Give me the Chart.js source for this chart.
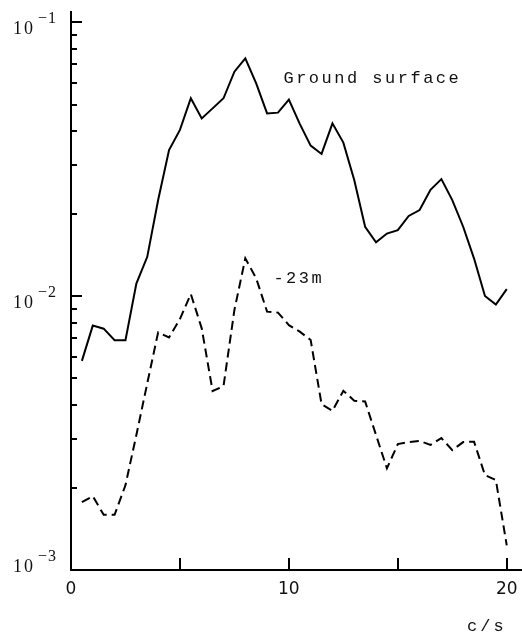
<!DOCTYPE html>
<html>
<head>
<meta charset="utf-8">
<script src="https://cdn.jsdelivr.net/npm/chart.js@4.4.0/dist/chart.umd.min.js"></script>
<style>
    html, body { margin: 0; padding: 0; background: #fff; }
    #wrap { width: 522px; height: 635px; position: relative; }
</style>
</head>
<body>
<div id="wrap"><canvas id="chart"></canvas></div>
<script>
// frequency, c/s
const freqs = [0.5, 1, 1.5, 2, 2.5, 3, 3.5, 4, 4.5, 5, 5.5, 6, 6.5, 7, 7.5, 8, 8.5, 9, 9.5, 10,
    10.5, 11, 11.5, 12, 12.5, 13, 13.5, 14, 14.5, 15, 15.5, 16, 16.5, 17, 17.5, 18, 18.5, 19, 19.5, 20];

const groundSurface = [0.0058, 0.0078, 0.0076, 0.0069, 0.0069, 0.0111, 0.0139, 0.0224, 0.0341, 0.0404,
    0.0527, 0.0445, 0.0484, 0.0527, 0.0659, 0.0737, 0.0597, 0.0464, 0.0467, 0.0521,
    0.0425, 0.0354, 0.0330, 0.0427, 0.0363, 0.0265, 0.0179, 0.0157, 0.0169, 0.0174,
    0.0196, 0.0206, 0.0244, 0.0267, 0.0224, 0.0179, 0.0137, 0.0100, 0.0093, 0.0106];

const depth23m = [0.00177, 0.00186, 0.00159, 0.00159, 0.00204, 0.00311, 0.0048, 0.00737, 0.00706, 0.00824,
    0.01017, 0.00762, 0.0045, 0.00469, 0.00889, 0.01373, 0.0116, 0.00877, 0.0087, 0.00783,
    0.00741, 0.00691, 0.00403, 0.00381, 0.00451, 0.00415, 0.00412, 0.00311, 0.00235, 0.00288,
    0.00293, 0.00296, 0.00286, 0.00303, 0.00274, 0.00293, 0.00294, 0.00222, 0.00213, 0.00123];

const xTicks = [0, 5, 10, 15, 20];
const xTickLabels = ['0', '', '10', '', '20'];
const yDecades = [0.001, 0.01, 0.1];
const yDecadeExps = ['-3', '-2', '-1'];
const yMinorTicks = [0.002, 0.003, 0.004, 0.005, 0.006, 0.007, 0.008, 0.009,
    0.02, 0.03, 0.04, 0.05, 0.06, 0.07, 0.08, 0.09];

// curve labels, anchored in data units (left end of the baseline)
const seriesNotes = [
    { text: 'Ground surface', x: 9.75, y: 0.0599 },
    { text: '-23m', x: 9.29, y: 0.0112 },
];

const MONO = '"Liberation Mono", "DejaVu Sans Mono", monospace';
const SERIF = '"Liberation Serif", "DejaVu Serif", serif';
const SANS = '"DejaVu Sans", "Liberation Sans", sans-serif';

const toPoints = (ys) => freqs.map((f, i) => ({ x: f, y: ys[i] }));

const paperAxes = {
    id: 'paperAxes',
    afterDraw(chart) {
        const { ctx, chartArea, scales } = chart;
        const xs = scales.x, ys = scales.y;
        ctx.save();
        ctx.strokeStyle = '#000';
        ctx.fillStyle = '#111';
        ctx.lineWidth = 2;

        // inward ticks on the y axis
        ctx.beginPath();
        yDecades.forEach((v) => {
            const py = Math.round(ys.getPixelForValue(v));
            ctx.moveTo(chartArea.left, py);
            ctx.lineTo(chartArea.left + 11, py);
        });
        yMinorTicks.forEach((v) => {
            const py = Math.round(ys.getPixelForValue(v));
            ctx.moveTo(chartArea.left, py);
            ctx.lineTo(chartArea.left + 6, py);
        });
        // upward ticks on the x axis
        xTicks.forEach((v) => {
            if (v === 0) return;
            const px = Math.round(xs.getPixelForValue(v));
            ctx.moveTo(px, chartArea.bottom);
            ctx.lineTo(px, chartArea.bottom - 12);
        });
        ctx.stroke();

        // x tick labels
        ctx.font = '17px ' + SANS;
        ctx.textAlign = 'center';
        ctx.textBaseline = 'middle';
        xTicks.forEach((v, i) => {
            if (!xTickLabels[i]) return;
            ctx.fillText(xTickLabels[i], xs.getPixelForValue(v), chartArea.bottom + 20);
        });

        // y decade labels, 10 with a raised exponent
        ctx.textAlign = 'left';
        ctx.textBaseline = 'alphabetic';
        yDecades.forEach((v, i) => {
            const py = ys.getPixelForValue(v);
            const base = Math.min(py + 12, chartArea.bottom + 2);
            ctx.letterSpacing = '2px';
            ctx.font = '18px ' + SERIF;
            ctx.fillText('10', 13, base);
            ctx.letterSpacing = '1px';
            ctx.font = '16px ' + SERIF;
            ctx.fillText(yDecadeExps[i].replace('-', '\u2212'), 38, base - 11);
        });

        // axis unit
        ctx.letterSpacing = '3px';
        ctx.font = '17px ' + MONO;
        ctx.fillText('c/s', 467, chartArea.bottom + 61);

        // curve labels
        ctx.letterSpacing = '2.5px';
        ctx.font = '17px ' + MONO;
        seriesNotes.forEach((n) => {
            ctx.fillText(n.text, xs.getPixelForValue(n.x), ys.getPixelForValue(n.y));
        });
        ctx.restore();
    },
};

new Chart(document.getElementById('chart'), {
    type: 'line',
    data: {
        datasets: [
            {
                label: 'Ground surface',
                data: toPoints(groundSurface),
                borderColor: '#000',
                borderWidth: 2,
                pointRadius: 0,
                tension: 0,
            },
            {
                label: '-23m',
                data: toPoints(depth23m),
                borderColor: '#000',
                borderWidth: 2,
                borderDash: [9, 5],
                pointRadius: 0,
                tension: 0,
            },
        ],
    },
    options: {
        responsive: true,
        maintainAspectRatio: false,
        devicePixelRatio: 1,
        animation: false,
        layout: { padding: { top: 12, right: 0, left: 0, bottom: 0 } },
        plugins: {
            legend: { display: false },
            tooltip: { enabled: false },
        },
        scales: {
            x: {
                type: 'linear',
                min: 0,
                max: 20.7,
                grid: { display: false },
                border: { display: true, color: '#000', width: 2 },
                ticks: { display: false },
                afterFit: (s) => { s.height = 65; },
            },
            y: {
                type: 'logarithmic',
                min: 0.001,
                max: 0.1088,
                grid: { display: false },
                border: { display: true, color: '#000', width: 2 },
                ticks: { display: false },
                afterFit: (s) => { s.width = 71; },
            },
        },
    },
    plugins: [paperAxes],
});
</script>
</body>
</html>
